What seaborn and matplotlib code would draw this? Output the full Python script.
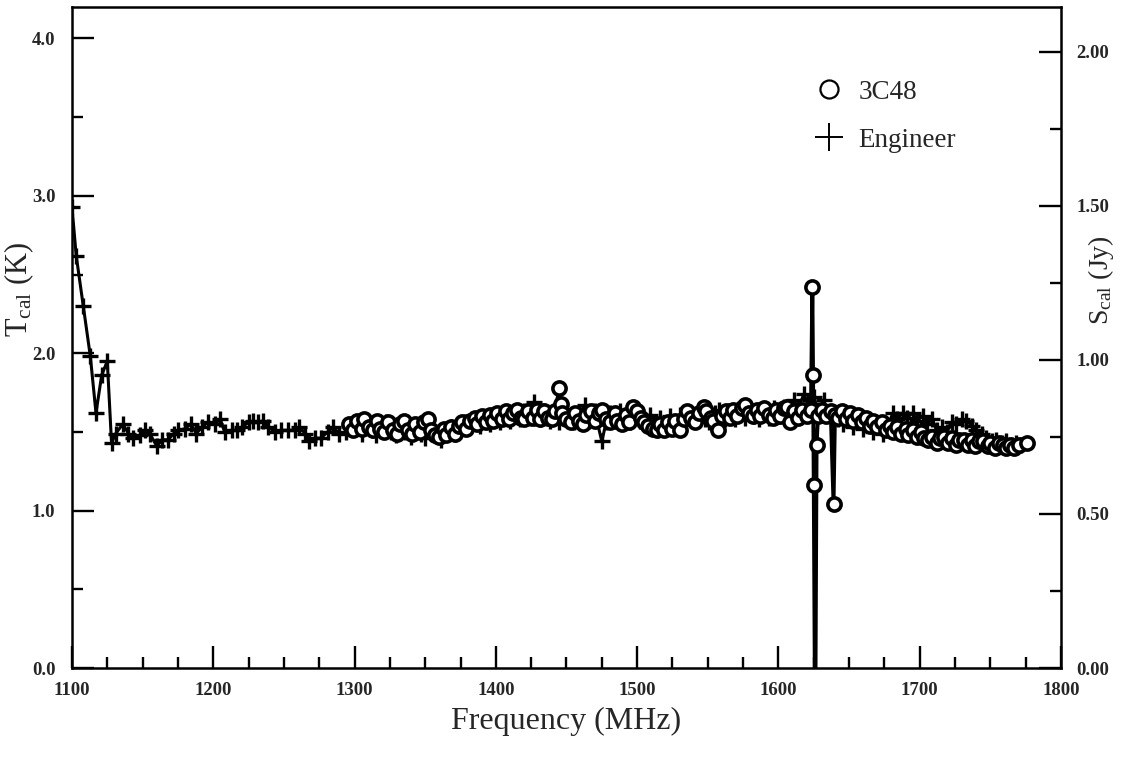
import matplotlib
matplotlib.use("Agg")
import matplotlib.pyplot as plt
import seaborn as sns
import pandas as pd
from matplotlib.ticker import MultipleLocator, FixedLocator
from matplotlib.lines import Line2D

sns.set_theme(style="white")
plt.rcParams["font.family"] = ["Liberation Serif", "DejaVu Serif"]
plt.rcParams["mathtext.fontset"] = "custom"
plt.rcParams["mathtext.rm"] = "Liberation Serif"
plt.rcParams["mathtext.it"] = "Liberation Serif:italic"

# Engineer calibration (frequency MHz, T_cal K)
eng_freq = [
    1100, 1103, 1108, 1113, 1117, 1121, 1125, 1128, 1131, 1136, 1140, 1143, 1148, 1152,
    1155, 1160, 1164, 1168, 1172, 1175, 1180, 1184, 1188, 1192, 1196, 1201, 1205, 1208,
    1213, 1217, 1220, 1225, 1228, 1232, 1235, 1239, 1244, 1248, 1253, 1258, 1261, 1265,
    1268, 1272, 1276, 1281, 1285, 1289, 1294, 1298, 1301, 1305, 1308, 1312, 1315, 1319,
    1322, 1326, 1329, 1333, 1336, 1340, 1343, 1347, 1350, 1354, 1357, 1361, 1364, 1368,
    1371, 1375, 1378, 1382, 1385, 1389, 1392, 1396, 1399, 1403, 1406, 1410, 1413, 1417,
    1420, 1424, 1427, 1431, 1434, 1438, 1441, 1445, 1448, 1452, 1455, 1459, 1463, 1466,
    1470, 1475, 1478, 1481, 1485, 1488, 1492, 1495, 1499, 1502, 1506, 1509, 1513, 1516,
    1520, 1523, 1527, 1530, 1534, 1537, 1541, 1544, 1548, 1551, 1555, 1558, 1562, 1565,
    1569, 1572, 1576, 1579, 1583, 1586, 1590, 1593, 1597, 1600, 1604, 1607, 1611, 1614,
    1618, 1621, 1625, 1628, 1632, 1635, 1639, 1642, 1646, 1649, 1653, 1656, 1660, 1663,
    1667, 1670, 1674, 1677, 1681, 1684, 1688, 1691, 1695, 1698, 1702, 1705, 1709, 1712,
    1716, 1719, 1723, 1726, 1730, 1733, 1737, 1740, 1744, 1747, 1751, 1754, 1758, 1761,
    1765, 1768, 1772,
]
eng_tcal = [
    2.93, 2.62, 2.30, 1.98, 1.62, 1.86, 1.95, 1.43, 1.49, 1.55, 1.49, 1.46, 1.48, 1.51,
    1.49, 1.41, 1.45, 1.45, 1.49, 1.51, 1.52, 1.55, 1.49, 1.53, 1.56, 1.55, 1.58, 1.50,
    1.51, 1.51, 1.53, 1.56, 1.57, 1.56, 1.57, 1.53, 1.50, 1.51, 1.51, 1.51, 1.53, 1.49,
    1.44, 1.46, 1.46, 1.50, 1.53, 1.49, 1.50, 1.52, 1.55, 1.49, 1.56, 1.51, 1.48, 1.54,
    1.56, 1.50, 1.48, 1.54, 1.50, 1.47, 1.53, 1.49, 1.46, 1.52, 1.48, 1.45, 1.50, 1.53,
    1.49, 1.54, 1.56, 1.53, 1.58, 1.54, 1.59, 1.55, 1.60, 1.56, 1.61, 1.57, 1.62, 1.58,
    1.63, 1.59, 1.69, 1.58, 1.63, 1.57, 1.62, 1.56, 1.63, 1.58, 1.56, 1.62, 1.67, 1.57,
    1.63, 1.44, 1.56, 1.62, 1.57, 1.63, 1.58, 1.56, 1.62, 1.57, 1.55, 1.61, 1.54, 1.59,
    1.53, 1.60, 1.55, 1.61, 1.56, 1.62, 1.57, 1.63, 1.58, 1.56, 1.62, 1.64, 1.58, 1.63,
    1.58, 1.64, 1.59, 1.65, 1.60, 1.58, 1.64, 1.59, 1.65, 1.60, 1.66, 1.62, 1.70, 1.65,
    1.74, 1.67, 1.72, 1.64, 1.70, 1.62, 1.60, 1.58, 1.55, 1.60, 1.53, 1.58, 1.52, 1.56,
    1.50, 1.55, 1.49, 1.53, 1.62, 1.58, 1.62, 1.59, 1.62, 1.57, 1.60, 1.55, 1.58, 1.51,
    1.53, 1.50, 1.56, 1.55, 1.58, 1.57, 1.54, 1.51, 1.49, 1.46, 1.44, 1.45, 1.43, 1.44,
    1.42, 1.43, 1.42,
]

# 3C48 calibration (frequency MHz, T_cal K)
src_freq = [
    1296, 1299, 1302, 1305, 1307, 1310, 1313, 1316, 1318, 1321, 1324, 1327, 1330, 1332,
    1335, 1338, 1341, 1343, 1346, 1349, 1352, 1354, 1357, 1360, 1363, 1365, 1368, 1371,
    1374, 1376, 1379, 1382, 1385, 1387, 1390, 1393, 1396, 1398, 1401, 1404, 1407, 1409,
    1412, 1415, 1418, 1420, 1423, 1426, 1429, 1431, 1434, 1437, 1440, 1442, 1445, 1446,
    1447, 1450, 1453, 1456, 1459, 1462, 1464, 1467, 1470, 1473, 1475, 1478, 1481, 1484,
    1486, 1489, 1492, 1494, 1497, 1500, 1503, 1505, 1508, 1511, 1514, 1516, 1519, 1522,
    1525, 1527, 1530, 1533, 1535, 1538, 1541, 1544, 1547, 1549, 1552, 1554, 1557, 1560,
    1563, 1566, 1568, 1571, 1574, 1576, 1579, 1582, 1585, 1587, 1590, 1593, 1596, 1598,
    1601, 1604, 1606, 1608, 1611, 1614, 1617, 1620, 1623, 1624, 1624.5, 1625, 1626, 1627,
    1628, 1631, 1634, 1637, 1639, 1640, 1642, 1645, 1648, 1651, 1653, 1656, 1659, 1662,
    1665, 1667, 1670, 1673, 1676, 1679, 1681, 1684, 1687, 1690, 1692, 1695, 1698, 1701,
    1703, 1706, 1709, 1712, 1714, 1717, 1720, 1723, 1726, 1728, 1731, 1734, 1737, 1739,
    1742, 1745, 1748, 1750, 1753, 1756, 1759, 1761, 1764, 1767, 1770, 1776,
]
src_tcal = [
    1.55, 1.51, 1.57, 1.52, 1.58, 1.53, 1.51, 1.57, 1.52, 1.50, 1.56, 1.51, 1.49, 1.55,
    1.57, 1.51, 1.49, 1.55, 1.50, 1.56, 1.58, 1.51, 1.48, 1.47, 1.52, 1.48, 1.53, 1.49,
    1.54, 1.56, 1.52, 1.57, 1.59, 1.55, 1.60, 1.56, 1.61, 1.57, 1.62, 1.58, 1.63, 1.58,
    1.62, 1.64, 1.59, 1.58, 1.63, 1.59, 1.64, 1.58, 1.63, 1.59, 1.58, 1.63, 1.78, 1.68,
    1.62, 1.58, 1.56, 1.62, 1.57, 1.55, 1.61, 1.63, 1.57, 1.62, 1.64, 1.58, 1.56, 1.62,
    1.57, 1.55, 1.61, 1.56, 1.66, 1.63, 1.59, 1.56, 1.54, 1.52, 1.51, 1.55, 1.51, 1.56,
    1.52, 1.57, 1.51, 1.58, 1.63, 1.59, 1.56, 1.62, 1.66, 1.63, 1.59, 1.57, 1.51, 1.60,
    1.63, 1.59, 1.64, 1.60, 1.65, 1.67, 1.62, 1.60, 1.64, 1.60, 1.65, 1.61, 1.59, 1.64,
    1.60, 1.65, 1.66, 1.56, 1.63, 1.59, 1.64, 1.60, 1.64, 2.42, 1.86, 1.16, -0.50, 1.42,
    1.60, 1.64, 1.60, 1.63, 1.04, 1.61, 1.59, 1.63, 1.58, 1.62, 1.57, 1.61, 1.56, 1.59,
    1.54, 1.57, 1.53, 1.56, 1.51, 1.54, 1.50, 1.53, 1.49, 1.52, 1.48, 1.51, 1.47, 1.50,
    1.46, 1.45, 1.47, 1.43, 1.46, 1.47, 1.43, 1.46, 1.42, 1.45, 1.45, 1.42, 1.45, 1.41,
    1.44, 1.44, 1.41, 1.43, 1.40, 1.43, 1.42, 1.40, 1.42, 1.40, 1.42, 1.43,
]

x_ticks = [1100, 1200, 1300, 1400, 1500, 1600, 1700, 1800]
left_ticks = [0.0, 1.0, 2.0, 3.0, 4.0]
right_ticks = [0.0, 0.5, 1.0, 1.5, 2.0]

eng = pd.DataFrame({"freq": eng_freq, "tcal": eng_tcal})
src = pd.DataFrame({"freq": src_freq, "tcal": src_tcal})

fig = plt.figure(figsize=(11.21, 7.61), dpi=100)
ax = fig.add_axes([0.0642, 0.1222, 0.8823, 0.8686])

sns.lineplot(data=eng, x="freq", y="tcal", ax=ax, color="black", lw=2.2,
             marker="+", markersize=11.5, markeredgewidth=2.4, markeredgecolor="black",
             estimator=None, sort=False, zorder=2)
sns.lineplot(data=src, x="freq", y="tcal", ax=ax, color="black", lw=2.8,
             marker="o", markersize=9.5, markerfacecolor="white", markeredgecolor="black",
             markeredgewidth=2.6, estimator=None, sort=False, zorder=3)

ax.set_xlim(1100, 1800)
ax.set_ylim(0, 4.2)

for s in ax.spines.values():
    s.set_color("black")
    s.set_linewidth(1.8)

tick_font = dict(fontsize=13.5, fontweight="bold", family="Liberation Serif")

ax.xaxis.set_major_locator(FixedLocator(x_ticks))
ax.xaxis.set_minor_locator(MultipleLocator(25))
ax.yaxis.set_major_locator(FixedLocator(left_ticks))
ax.yaxis.set_minor_locator(MultipleLocator(0.5))
ax.set_xticklabels([str(v) for v in x_ticks], **tick_font)
ax.set_yticklabels([f"{v:.1f}" for v in left_ticks], **tick_font)
ax.tick_params(axis="both", which="major", direction="in", length=16, width=1.7,
               color="black", pad=12, top=False, right=False, bottom=True, left=True)
ax.tick_params(axis="both", which="minor", direction="in", length=8, width=1.7,
               color="black", top=False, right=False, bottom=True, left=True)
ax.tick_params(axis="x", which="major", pad=10)

ax2 = ax.twinx()
ax2.set_ylim(0, 2.146)
ax2.yaxis.set_major_locator(FixedLocator(right_ticks))
ax2.yaxis.set_minor_locator(MultipleLocator(0.25))
ax2.set_yticklabels([f"{v:.2f}" for v in right_ticks], **tick_font)
ax2.tick_params(axis="y", which="major", direction="in", length=16, width=1.7,
                color="black", pad=11)
ax2.tick_params(axis="y", which="minor", direction="in", length=8, width=1.7,
                color="black")
for s in ax2.spines.values():
    s.set_visible(False)

ax.set_xlabel("Frequency (MHz)", fontsize=23, labelpad=6)
ax.set_ylabel(r"T$_{\rm cal}$ (K)", fontsize=22)
ax.yaxis.set_label_coords(-0.036, 0.572)
ax2.set_ylabel(r"S$_{\rm cal}$ (Jy)", fontsize=20)
ax2.yaxis.set_label_coords(1.025, 0.587)

handles = [
    Line2D([], [], ls="none", marker="o", markersize=13, markerfacecolor="white",
           markeredgecolor="black", markeredgewidth=1.6),
    Line2D([], [], ls="none", marker="+", markersize=20, markeredgecolor="black",
           markeredgewidth=1.4),
]
leg = ax.legend(handles, ["3C48", "Engineer"], loc="upper left",
                bbox_to_anchor=(0.724, 0.927), frameon=False, fontsize=19.5,
                handletextpad=0.5, labelspacing=0.85, handlelength=1.2)

fig.savefig("out.png", dpi=100)
